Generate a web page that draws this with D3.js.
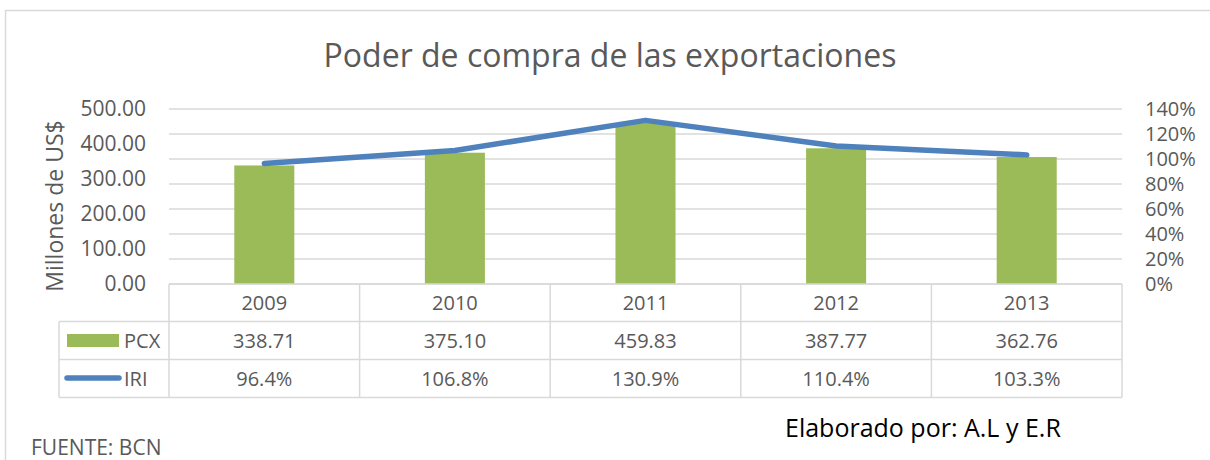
<!DOCTYPE html>
<html><head><meta charset="utf-8">
<script src="https://cdn.jsdelivr.net/npm/d3@7"></script>
<style>body{margin:0;background:#fff}svg{display:block}text{font-family:"Open Sans",sans-serif}</style>
</head><body>
<svg id="c" width="1210" height="460"></svg>
<script>
const years = ["2009","2010","2011","2012","2013"];
const pcx = [338.71, 375.10, 459.83, 387.77, 362.76];
const iri = [0.964, 1.068, 1.309, 1.104, 1.033];
const pcxLabels = ["338.71","375.10","459.83","387.77","362.76"];
const iriLabels = ["96.4%","106.8%","130.9%","110.4%","103.3%"];
const leftTicks = [0,100,200,300,400,500];
const rightTicks = [0,0.2,0.4,0.6,0.8,1.0,1.2,1.4];

const svg = d3.select("#c");
const grey = "#595959", lineC = "#D9D9D9";
const L = 169, R = 1122, T = 109, B = 284;
const rowH = [37.5, 38, 38];

// outer border
svg.append("rect").attr("x",5.5).attr("y",10.5).attr("width",1220).attr("height",480)
  .attr("fill","none").attr("stroke",lineC).attr("stroke-width",1.5);

const x = d3.scaleBand().domain(years).range([L,R]).padding(0);
const yL = d3.scaleLinear().domain([0,500]).range([B,T]);
const yR = d3.scaleLinear().domain([0,1.4]).range([B,T]);

// gridlines
svg.append("g").selectAll("line").data(rightTicks).join("line")
  .attr("x1",L).attr("x2",R).attr("y1",d=>yR(d)).attr("y2",d=>yR(d))
  .attr("stroke",lineC).attr("stroke-width",1.4);

// axes labels
const gl = svg.append("g").attr("transform",`translate(${L},0)`)
  .call(d3.axisLeft(yL).tickValues(leftTicks).tickFormat(d3.format(".2f")).tickSize(0).tickPadding(23));
gl.select(".domain").remove();
gl.selectAll("text").attr("fill",grey).style("font-size","21px").style("font-family","Open Sans");

const gr = svg.append("g").attr("transform",`translate(${R},0)`)
  .call(d3.axisRight(yR).tickValues(rightTicks).tickFormat(d3.format(".0%")).tickSize(0).tickPadding(23));
gr.select(".domain").remove();
gr.selectAll("text").attr("fill",grey).style("font-size","20px").style("font-family","Open Sans");

// bars
const bw = x.bandwidth()*0.315;
svg.append("g").selectAll("rect").data(pcx).join("rect")
  .attr("x",(d,i)=>x(years[i])+x.bandwidth()/2-bw/2).attr("width",bw)
  .attr("y",d=>yL(d)).attr("height",d=>B-yL(d)).attr("fill","#9BBB59");

// line
const line = d3.line().x((d,i)=>x(years[i])+x.bandwidth()/2).y(d=>yR(d));
svg.append("path").datum(iri).attr("d",line).attr("fill","none")
  .attr("stroke","#4F81BD").attr("stroke-width",5.5).attr("stroke-linejoin","round").attr("stroke-linecap","round");

// table
const r0 = B, r1 = B+rowH[0], r2 = r1+rowH[1], r3 = r2+rowH[2];
const tg = svg.append("g").attr("stroke",lineC).attr("stroke-width",1.5).attr("fill","none");
tg.append("line").attr("x1",L).attr("x2",R).attr("y1",r0).attr("y2",r0);
[r1,r2,r3].forEach(y=>tg.append("line").attr("x1",59).attr("x2",R).attr("y1",y).attr("y2",y));
tg.append("line").attr("x1",59).attr("x2",59).attr("y1",r1).attr("y2",r3);
years.forEach(yv=>tg.append("line").attr("x1",x(yv)).attr("x2",x(yv)).attr("y1",r0).attr("y2",r3));
tg.append("line").attr("x1",R).attr("x2",R).attr("y1",r0).attr("y2",r3);

const cells = (arr, yc) => svg.append("g").selectAll("text").data(arr).join("text")
  .attr("x",(d,i)=>x(years[i])+x.bandwidth()/2).attr("y",yc).attr("text-anchor","middle")
  .attr("dy","0.36em").attr("fill",grey).style("font-size","20px").text(d=>d);
cells(years, (r0+r1)/2);
cells(pcxLabels, (r1+r2)/2);
cells(iriLabels, (r2+r3)/2);

// legend keys
svg.append("rect").attr("x",67).attr("y",(r1+r2)/2-6.5).attr("width",52).attr("height",13).attr("fill","#9BBB59");
svg.append("line").attr("x1",67).attr("x2",119).attr("y1",(r2+r3)/2-0.5).attr("y2",(r2+r3)/2-0.5)
  .attr("stroke","#4F81BD").attr("stroke-width",5.5).attr("stroke-linecap","round");
svg.append("text").attr("x",124).attr("y",(r1+r2)/2).attr("dy","0.36em").attr("fill",grey).style("font-size","20px").text("PCX");
svg.append("text").attr("x",124).attr("y",(r2+r3)/2).attr("dy","0.36em").attr("fill",grey).style("font-size","20px").text("IRI");

// title
svg.append("text").attr("x",610).attr("y",67).attr("text-anchor","middle").attr("fill",grey)
  .style("font-size","32px").text("Poder de compra de las exportaciones");

// y axis title
svg.append("text").attr("transform","translate(63,206) rotate(-90)").attr("text-anchor","middle")
  .attr("fill",grey).style("font-size","23px").text("Millones de US$");

// footer
svg.append("text").attr("x",785).attr("y",437).attr("fill","#000").style("font-size","25px").text("Elaborado por: A.L y E.R");
svg.append("text").attr("x",31).attr("y",455).attr("fill",grey).style("font-size","21px").text("FUENTE: BCN");
</script>
</body></html>
